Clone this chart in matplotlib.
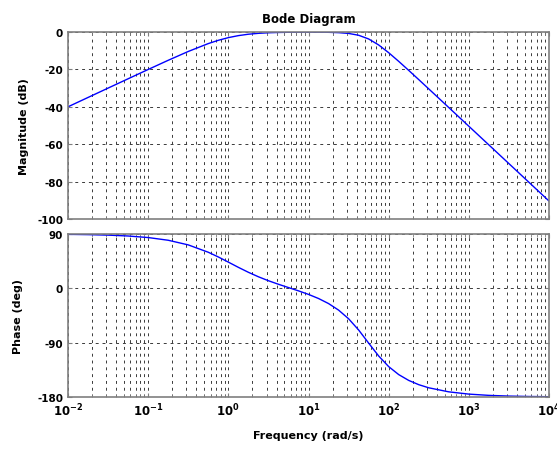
import numpy as np
import matplotlib
matplotlib.use("Agg")
import matplotlib.pyplot as plt
from matplotlib.ticker import LogLocator, FixedLocator, NullFormatter, FuncFormatter

# log10 of frequency (rad/s) at which values were read
log_freq = [-2, -1.75, -1.5, -1.25, -1, -0.75, -0.5, -0.25, -0.125, 0, 0.125, 0.25,
            0.375, 0.5, 0.625, 0.75, 0.875, 1, 1.125, 1.25, 1.375, 1.5, 1.625, 1.75,
            1.875, 2, 2.125, 2.25, 2.375, 2.5, 2.75, 3, 3.25, 3.5, 3.75, 4]
magnitude_db = [-40.00, -35.00, -30.00, -25.01, -20.04, -15.13, -10.41, -6.19, -4.44, -3.01,
                -1.94, -1.19, -0.71, -0.41, -0.25, -0.15, -0.10, -0.08, -0.10, -0.17,
                -0.35, -0.76, -1.74, -3.72, -6.92, -11.06, -15.69, -20.52, -25.45, -30.42,
                -40.40, -50.39, -60.38, -70.38, -80.38, -90.39]
phase_deg = [89.41, 88.95, 88.14, 86.69, 84.13, 79.64, 71.96, 59.76, 51.97, 43.44,
             34.78, 26.58, 19.16, 12.60, 6.74, 1.27, -4.17, -10.04, -16.84, -25.21,
             -36.05, -50.37, -68.93, -90.67, -112.02, -129.64, -142.87, -152.52, -159.57,
             -164.76, -171.47, -175.21, -177.30, -178.48, -179.15, -179.53]
mag_ticks = [0, -20, -40, -60, -80, -100]
phase_ticks = [90, 0, -90, -180]

freq = [10 ** v for v in log_freq]

W, H = 557, 452
fig = plt.figure(figsize=(W / 100, H / 100), dpi=100)
left = 68 / W
width = 481 / W
ax1 = fig.add_axes([left, 1 - 220 / H, width, 187 / H])
ax2 = fig.add_axes([left, 1 - 398 / H, width, 163 / H])

grid_kw = dict(color="#3a3a3a", linestyle=(0, (3, 4)), linewidth=0.7)
line_color = "#0000ff"


def pow_fmt(v, pos):
    e = int(round(np.log10(v)))
    return r"$\mathbf{10^{%d}}$" % e


for ax in (ax1, ax2):
    ax.set_xscale("log")
    ax.set_xlim(1e-2, 1e4)
    ax.xaxis.set_major_locator(LogLocator(base=10, numticks=20))
    ax.xaxis.set_major_formatter(FuncFormatter(pow_fmt))
    ax.xaxis.set_minor_locator(LogLocator(base=10, subs=np.arange(2, 10), numticks=20))
    ax.xaxis.set_minor_formatter(NullFormatter())
    ax.grid(True, which="major", axis="both", **grid_kw)
    ax.grid(True, which="minor", axis="x", **grid_kw)
    for s in ax.spines.values():
        s.set_color("#7f7f7f")
        s.set_linewidth(1.2)
    ax.tick_params(which="both", direction="in", colors="#7f7f7f", labelcolor="black",
                   labelsize=7.5, top=True, right=True)
    ax.tick_params(which="minor", length=2)
    ax.tick_params(which="major", length=3)

ax1.plot(freq, magnitude_db, color=line_color, linewidth=1.0)
ax1.set_ylim(-100, 0)
ax1.yaxis.set_major_locator(FixedLocator(mag_ticks))
ax1.set_yticklabels([str(t) for t in mag_ticks], fontweight="bold", fontsize=7.5)
ax1.tick_params(axis="x", labelbottom=False)
ax1.set_ylabel("Magnitude (dB)", fontweight="bold", fontsize=8, labelpad=6)
ax1.set_title("Bode Diagram", fontweight="bold", fontsize=8.5, pad=7)

ax2.plot(freq, phase_deg, color=line_color, linewidth=1.0)
ax2.set_ylim(-180, 90)
ax2.yaxis.set_major_locator(FixedLocator(phase_ticks))
ax2.set_yticklabels([str(t) for t in phase_ticks], fontweight="bold", fontsize=7.5)
ax2.tick_params(axis="x", labelsize=8.5)
ax2.set_ylabel("Phase (deg)", fontweight="bold", fontsize=8, labelpad=10)
ax2.set_xlabel("Frequency (rad/s)", fontweight="bold", fontsize=8, labelpad=8)

fig.align_ylabels([ax1, ax2])
fig.savefig("out.png", dpi=100)
